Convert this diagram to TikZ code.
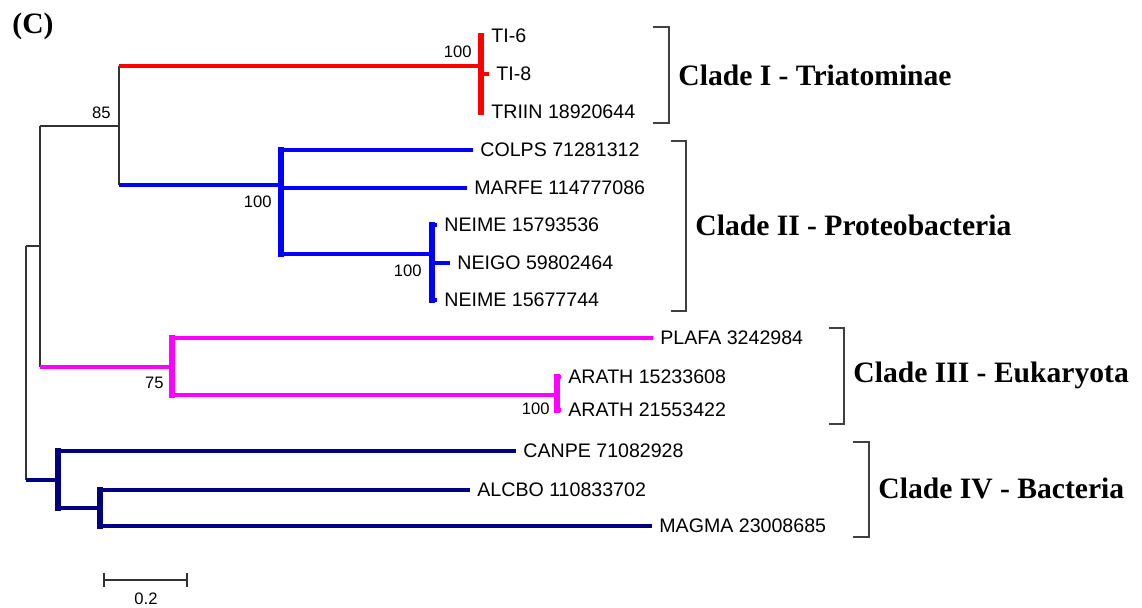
\documentclass[tikz,border=0pt]{standalone}
\usepackage{fontspec}
\usetikzlibrary{calc}
\setmainfont{Liberation Serif}
\newfontfamily\arialf{Liberation Sans}
\definecolor{navyc}{RGB}{0,0,128}
\definecolor{magc}{RGB}{255,0,255}
\definecolor{redc}{RGB}{255,0,0}
\definecolor{bluec}{RGB}{0,0,255}
\begin{document}
\begin{tikzpicture}[x=0.5pt,y=-0.5pt,
  blk/.style={line width=0.8pt,draw=black!80},
  hb/.style={line width=2pt},
  vb/.style={line width=2.6pt,line cap=rect},
  tip/.style={anchor=west,inner sep=0pt,xshift=3.5pt,font=\arialf\fontsize{9.8}{11}\selectfont},
  boot/.style={inner sep=0pt,font=\arialf\fontsize{8.3}{10}\selectfont},
  clade/.style={anchor=west,inner sep=0pt,font=\bfseries\fontsize{14.8}{17}\selectfont},
  brk/.style={line width=1pt,draw=black!75}]
\useasboundingbox (0,0) rectangle (1142,608);
% panel label
\node[anchor=west,inner sep=0pt,font=\bfseries\fontsize{14.8}{17}\selectfont] (panel) at (12,26) {(C)};
% internal nodes
\coordinate (r) at (26,363);
\coordinate (a) at (40,246);
\coordinate (b) at (119,126);
\coordinate (c) at (481,66);
\coordinate (d) at (281,185);
\coordinate (e) at (432,254);
\coordinate (f) at (172,367);
\coordinate (g) at (557,395);
\coordinate (h) at (58,480);
\coordinate (i) at (100,508);
% tips
\coordinate (t1) at (484,36);
\coordinate (t2) at (489,74);
\coordinate (t3) at (484,112);
\coordinate (t4) at (473,150);
\coordinate (t5) at (467,188);
\coordinate (t6) at (437,225);
\coordinate (t7) at (450,263);
\coordinate (t8) at (437,300);
\coordinate (t9) at (653,338);
\coordinate (t10) at (561,377);
\coordinate (t11) at (561,410);
\coordinate (t12) at (516,451);
\coordinate (t13) at (470,490);
\coordinate (t14) at (652,526);
% black backbone
\draw[blk] (r |- a) -- (r |- h);
\draw[blk] (r |- a) -- (a);
\draw[blk] (a |- b) -- (a |- f);
\draw[blk] (a |- b) -- (b);
\draw[blk] (b |- c) -- (b |- d);
% red clade
\draw[hb,redc] (b |- c) -- (c);
\draw[vb,redc] (c |- t1) -- (c |- t3);
\draw[hb,redc] (c |- t1) -- (t1);
\draw[hb,redc] (c |- t2) -- (t2);
\draw[hb,redc] (c |- t3) -- (t3);
% blue clade
\draw[hb,bluec] (b |- d) -- (d);
\draw[vb,bluec] (d |- t4) -- (d |- e);
\draw[hb,bluec] (d |- t4) -- (t4);
\draw[hb,bluec] (d |- t5) -- (t5);
\draw[hb,bluec] (d |- e) -- (e);
\draw[vb,bluec] (e |- t6) -- (e |- t8);
\draw[hb,bluec] (e |- t6) -- (t6);
\draw[hb,bluec] (e |- t7) -- (t7);
\draw[hb,bluec] (e |- t8) -- (t8);
% magenta clade
\draw[hb,magc] (a |- f) -- (f);
\draw[vb,magc] (f |- t9) -- (f |- g);
\draw[hb,magc] (f |- t9) -- (t9);
\draw[hb,magc] (f |- g) -- (g);
\draw[vb,magc] (g |- t10) -- (g |- t11);
\draw[hb,magc] (g |- t10) -- (t10);
\draw[hb,magc] (g |- t11) -- (t11);
% navy clade
\draw[hb,navyc] (r |- h) -- (h);
\draw[vb,navyc] (h |- t12) -- (h |- i);
\draw[hb,navyc] (h |- t12) -- (t12);
\draw[hb,navyc] (h |- i) -- (i);
\draw[vb,navyc] (i |- t13) -- (i |- t14);
\draw[hb,navyc] (i |- t13) -- (t13);
\draw[hb,navyc] (i |- t14) -- (t14);
% tip labels
\node[tip] (l1) at (t1) {TI-6};
\node[tip] (l2) at (t2) {TI-8};
\node[tip] (l3) at (t3) {TRIIN 18920644};
\node[tip] (l4) at (t4) {COLPS 71281312};
\node[tip] (l5) at (t5) {MARFE 114777086};
\node[tip] (l6) at (t6) {NEIME 15793536};
\node[tip] (l7) at (t7) {NEIGO 59802464};
\node[tip] (l8) at (t8) {NEIME 15677744};
\node[tip] (l9) at (t9) {PLAFA 3242984};
\node[tip] (l10) at (t10) {ARATH 15233608};
\node[tip] (l11) at (t11) {ARATH 21553422};
\node[tip] (l12) at (t12) {CANPE 71082928};
\node[tip] (l13) at (t13) {ALCBO 110833702};
\node[tip] (l14) at (t14) {MAGMA 23008685};
% bootstrap values
\node[boot,anchor=south east] (bs85) at ($(b)+(-8,-7)$) {85};
\node[boot,anchor=south east] (bsc) at ($(c)+(-9,-8)$) {100};
\node[boot,anchor=north east] (bsd) at ($(d)+(-9,11)$) {100};
\node[boot,anchor=north east] (bse) at ($(e)+(-10,11)$) {100};
\node[boot,anchor=north east] (bsf) at ($(f)+(-8,10)$) {75};
\node[boot,anchor=north east] (bsg) at ($(g)+(-7,8)$) {100};
% clade brackets
\coordinate (k1a) at (653,27); \coordinate (k1b) at (669,123);
\coordinate (k2a) at (671,141); \coordinate (k2b) at (686,311);
\coordinate (k3a) at (829,328); \coordinate (k3b) at (844,424);
\coordinate (k4a) at (853,442); \coordinate (k4b) at (869,537);
\draw[brk] (k1a) -| (k1b) -- (k1a |- k1b);
\draw[brk] (k2a) -| (k2b) -- (k2a |- k2b);
\draw[brk] (k3a) -| (k3b) -- (k3a |- k3b);
\draw[brk] (k4a) -| (k4b) -- (k4a |- k4b);
\node[clade] (c1) at (678,75) {Clade I - Triatominae};
\node[clade] (c2) at (695,225) {Clade II - Proteobacteria};
\node[clade] (c3) at (853,375) {Clade III - Eukaryota};
\node[clade] (c4) at (878,488) {Clade IV - Bacteria};
% scale bar
\coordinate (s1) at (104,580); \coordinate (s2) at (187,580);
\draw[blk,line width=1.1pt] (s1) -- (s2);
\draw[blk,line width=1.1pt] ($(s1)+(0,-7)$) -- ($(s1)+(0,7)$);
\draw[blk,line width=1.1pt] ($(s2)+(0,-7)$) -- ($(s2)+(0,7)$);
\node[boot] (sl) at (146,599) {0.2};
\end{tikzpicture}
\end{document}
